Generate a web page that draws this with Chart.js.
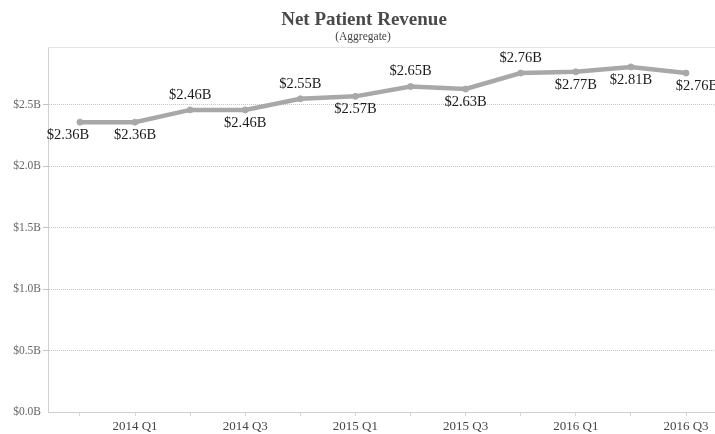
<!DOCTYPE html>
<html>
<head>
<meta charset="utf-8">
<script src="https://cdn.jsdelivr.net/npm/chart.js@4"></script>
<style>
html,body{margin:0;padding:0;background:#fff;}
#wrap{width:715px;height:434px;position:relative;}
</style>
</head>
<body>
<div id="wrap"><canvas id="c" width="715" height="434"></canvas></div>
<script>
const quarters = ['2013 Q4','2014 Q1','2014 Q2','2014 Q3','2014 Q4','2015 Q1','2015 Q2','2015 Q3','2015 Q4','2016 Q1','2016 Q2','2016 Q3'];
const revenue = [2.36, 2.36, 2.46, 2.46, 2.55, 2.57, 2.65, 2.63, 2.76, 2.77, 2.81, 2.76];
const yTicks = [0, 0.5, 1.0, 1.5, 2.0, 2.5];
const titleText = 'Net Patient Revenue';
const subtitleText = '(Aggregate)';

const labelSide = ['below','below','above','below','above','below','above','below','above','below','below','below'];
const labelShiftX = [-12,0,0,0,0,0,0,0,0,0,0,11];

const serif = '"Liberation Serif", "Times New Roman", serif';

const titlePlugin = {
  id: 'customTitle',
  afterDraw(chart) {
    const ctx = chart.ctx;
    ctx.save();
    ctx.textAlign = 'center';
    ctx.textBaseline = 'middle';
    ctx.fillStyle = '#4a4a4a';
    ctx.font = 'bold 19px ' + serif;
    ctx.fillText(titleText, 364, 20);
    ctx.font = '11.5px ' + serif;
    ctx.fillStyle = '#444';
    ctx.fillText(subtitleText, 363, 37);
    ctx.restore();
  }
};

const labelPlugin = {
  id: 'valueLabels',
  afterDatasetsDraw(chart) {
    const ctx = chart.ctx;
    const meta = chart.getDatasetMeta(0);
    ctx.save();
    ctx.font = '14.5px ' + serif;
    ctx.fillStyle = '#1a1a1a';
    ctx.textAlign = 'center';
    ctx.textBaseline = 'middle';
    meta.data.forEach((pt, i) => {
      const dy = labelSide[i] === 'above' ? -15 : 13;
      ctx.fillText('$' + revenue[i].toFixed(2) + 'B', pt.x + labelShiftX[i], pt.y + dy);
    });
    ctx.restore();
  }
};

const topLinePlugin = {
  id: 'topLine',
  beforeDatasetsDraw(chart) {
    const a = chart.chartArea, ctx = chart.ctx;
    ctx.save();
    ctx.strokeStyle = '#e3e3e3';
    ctx.lineWidth = 1;
    ctx.beginPath();
    ctx.moveTo(a.left, Math.round(a.top) + 0.5);
    ctx.lineTo(a.right, Math.round(a.top) + 0.5);
    ctx.stroke();
    ctx.restore();
  }
};

new Chart(document.getElementById('c'), {
  type: 'line',
  data: {
    datasets: [{
      data: revenue.map((v, i) => ({x: i, y: v})),
      borderColor: '#a8a8a8',
      backgroundColor: '#a8a8a8',
      borderWidth: 4.5,
      pointRadius: 3,
      pointBorderWidth: 1,
      pointHoverRadius: 3,
      tension: 0,
      clip: false
    }]
  },
  options: {
    responsive: false,
    animation: false,
    events: [],
    layout: { autoPadding: false, padding: { left: 0, right: 0, top: 47, bottom: 0 } },
    plugins: {
      legend: { display: false },
      tooltip: { enabled: false },
      title: { display: false }
    },
    scales: {
      x: {
        type: 'linear',
        min: -0.58,
        max: 11.526,
        afterBuildTicks(scale) { scale.ticks = quarters.map((q, i) => ({value: i})); },
        afterFit(scale) { scale.height = 22; scale.paddingLeft = 0; scale.paddingRight = 0; },
        ticks: {
          autoSkip: false,
          maxRotation: 0,
          padding: 2.5,
          color: '#444',
          font: { family: serif, size: 13 },
          callback: (v) => (v % 2 === 1 ? quarters[v] : '')
        },
        grid: { drawOnChartArea: false, drawTicks: true, tickLength: 4, color: '#d4d4d4' },
        border: { display: true, color: '#cfcfcf', width: 1 }
      },
      y: {
        min: 0,
        max: 2.972,
        afterBuildTicks(scale) { scale.ticks = yTicks.map(v => ({value: v})); },
        afterFit(scale) { scale.width = 48; },
        ticks: {
          padding: 2,
          color: '#666',
          font: { family: serif, size: 11.5 },
          callback: (v) => '$' + Number(v).toFixed(1) + 'B'
        },
        grid: {
          color: (c) => (c.tick && c.tick.value === 0 ? 'rgba(0,0,0,0)' : '#c4c4c4'),
          tickLength: 5,
          lineWidth: 1
        },
        border: { display: true, color: '#d0d0d0', width: 1, dash: [1, 1] }
      }
    }
  },
  plugins: [topLinePlugin, labelPlugin, titlePlugin]
});
</script>
</body>
</html>
